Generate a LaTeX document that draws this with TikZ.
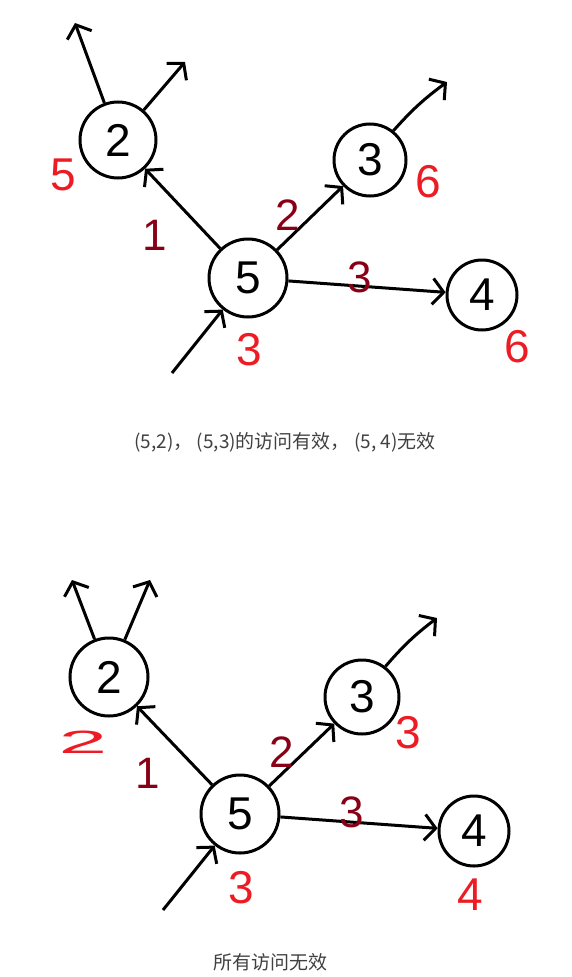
\documentclass[tikz,border=0pt]{standalone}
\usepackage{fontspec}
\setmainfont{Liberation Sans}
\newfontfamily\cjk{Noto Sans CJK SC}
\usetikzlibrary{arrows.meta,positioning}
\definecolor{inkred}{RGB}{237,28,36}
\definecolor{inkdark}{RGB}{136,0,21}
\definecolor{notegray}{RGB}{64,64,64}

\begin{document}
\begin{tikzpicture}[x=1pt,y=-1pt,
  vtx/.style={circle,draw,line width=3pt,inner sep=0pt,font=\fontsize{46}{46}\selectfont},
  link/.style={line width=3pt,-{Straight Barb[length=11pt,width=26pt]}},
  cost/.style={text=inkdark,font=\fontsize{44}{44}\selectfont},
  dist/.style={text=inkred,font=\fontsize{46}{46}\selectfont},
  note/.style={text=notegray,font=\cjk\fontsize{19}{19}\selectfont}]
\useasboundingbox (0,0) rectangle (571,977);

% upper graph
\node[vtx,minimum size=76pt] (n2) at (118,140) {2};
\node[vtx,minimum size=72pt] (n3) at (370,160) {3};
\node[vtx,minimum size=78pt] (n5) at (248,278) {5};
\node[vtx,minimum size=70pt] (n4) at (482,295) {4};
\coordinate (t2a) at (75,23);
\coordinate (t2b) at (185,62);
\coordinate (t3) at (447,82);
\coordinate (s5) at (172,373);

\draw[link] (n5) -- (n2);
\draw[link] (n5) -- (n3);
\draw[link] (n5) -- (n4);
\draw[link] (n2) -- (t2a);
\draw[link] (n2) -- (t2b);
\draw[link] (n3) to[bend left=6] (t3);
\draw[link] (s5) -- (n5);

\node[dist] (d2) at (63,175) {5};
\node[dist] (d3) at (428,182) {6};
\node[dist] (d5) at (249,350) {3};
\node[dist] (d4) at (517,347) {6};
\node[cost] (c52) at (155,235) {1};
\node[cost] (c53) at (288,215) {2};
\node[cost] (c54) at (360,277) {3};

\node[note] (top) at (285,442) {(5,2)， (5,3)的访问有效， (5, 4)无效};

% lower graph
\node[vtx,minimum size=78pt] (m2) at (109,677) {2};
\node[vtx,minimum size=74pt] (m3) at (362,697) {3};
\node[vtx,minimum size=78pt] (m5) at (240,814) {5};
\node[vtx,minimum size=70pt] (m4) at (474,831) {4};
\coordinate (u2a) at (72,580);
\coordinate (u2b) at (150,580);
\coordinate (u3) at (437,618);
\coordinate (r5) at (163,910);

\draw[link] (m5) -- (m2);
\draw[link] (m5) -- (m3);
\draw[link] (m5) -- (m4);
\draw[link] (m2) -- (u2a);
\draw[link] (m2) -- (u2b);
\draw[link] (m3) to[bend left=6] (u3);
\draw[link] (r5) -- (m5);

\node[dist] (e2) at (83,742) {\scalebox{1.9}[0.7]{2}};
\node[dist] (e3) at (408,733) {3};
\node[dist] (e5) at (241,888) {3};
\node[dist] (e4) at (470,895) {4};
\node[cost] (k52) at (148,773) {1};
\node[cost] (k53) at (282,752) {2};
\node[cost] (k54) at (352,812) {3};

\node[note] (bottom) at (270,962) {所有访问无效};
\end{tikzpicture}
\end{document}
